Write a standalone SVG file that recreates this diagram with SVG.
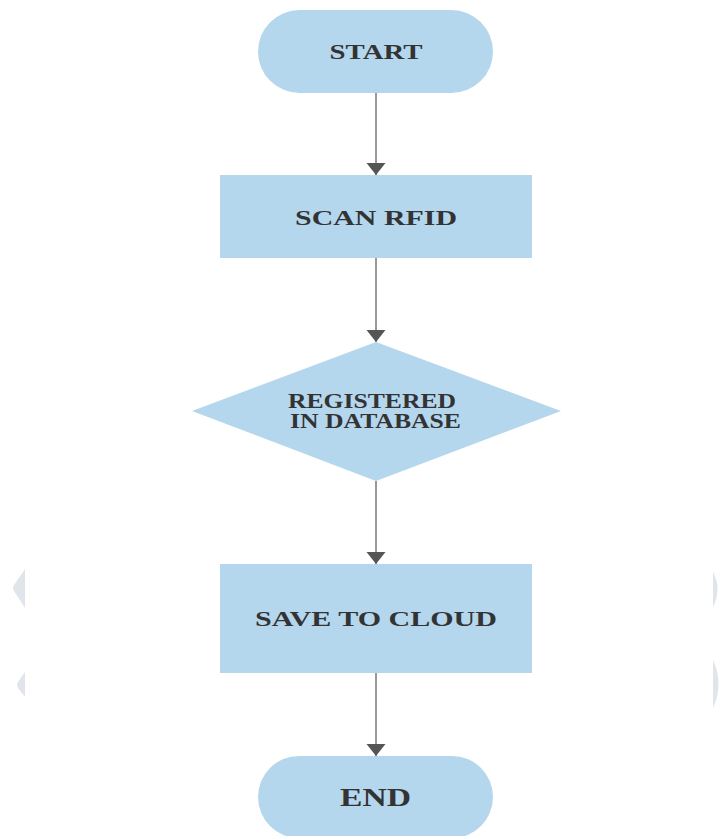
<svg xmlns="http://www.w3.org/2000/svg" width="720" height="836" viewBox="0 0 720 836">
<style>
.n{fill:#b4d7ee}
.t{font-family:"Liberation Serif","Times New Roman",serif;font-weight:bold;fill:#333;text-anchor:middle}
.e{stroke:#999;stroke-width:2;fill:none}
.w{fill:#dfe5ea}
</style>
<defs>
<marker id="ah" markerUnits="userSpaceOnUse" markerWidth="13" markerHeight="20" refX="12" refY="9.5" orient="auto">
<path d="M0,0 L12,9.5 L0,19 Z" fill="#555"/>
</marker>
</defs>
<rect width="720" height="836" fill="#fff"/>
<g id="watermark">
<path class="w" d="M25,569 L14,585 Q12,588 14,591 L25,608 Z"/>
<path class="w" d="M25,672 L18,682 Q16,685 18,688 L25,697 Z"/>
<path class="w" d="M713,572 Q722,589 713,607 Z"/>
<path class="w" d="M713,660 Q724,684 713,708 Z"/>
</g>
<g id="edges">
<line class="e" x1="376" y1="93" x2="376" y2="175" marker-end="url(#ah)"/>
<line class="e" x1="376" y1="258" x2="376" y2="342" marker-end="url(#ah)"/>
<line class="e" x1="376" y1="481" x2="376" y2="564" marker-end="url(#ah)"/>
<line class="e" x1="376" y1="673" x2="376" y2="756" marker-end="url(#ah)"/>
</g>
<g id="start">
<rect class="n" x="258" y="10" width="235" height="83" rx="41.5"/>
<text class="t" x="376" y="59" font-size="21" textLength="93" lengthAdjust="spacingAndGlyphs">START</text>
</g>
<g id="scan">
<rect class="n" x="220" y="175" width="312" height="83"/>
<text class="t" x="376" y="225" font-size="21" textLength="162" lengthAdjust="spacingAndGlyphs">SCAN RFID</text>
</g>
<g id="registered">
<polygon class="n" points="376,342 561,411 376,481 192,411"/>
<text class="t" x="372" y="408" font-size="20" textLength="168" lengthAdjust="spacingAndGlyphs">REGISTERED</text>
<text class="t" x="375.5" y="428" font-size="20" textLength="171" lengthAdjust="spacingAndGlyphs">IN DATABASE</text>
</g>
<g id="save">
<rect class="n" x="220" y="564" width="312" height="109"/>
<text class="t" x="376" y="626" font-size="21" textLength="242" lengthAdjust="spacingAndGlyphs">SAVE TO CLOUD</text>
</g>
<g id="end">
<rect class="n" x="258" y="756" width="235" height="82" rx="41"/>
<text class="t" x="375.5" y="806" font-size="25" textLength="71" lengthAdjust="spacingAndGlyphs">END</text>
</g>
</svg>
